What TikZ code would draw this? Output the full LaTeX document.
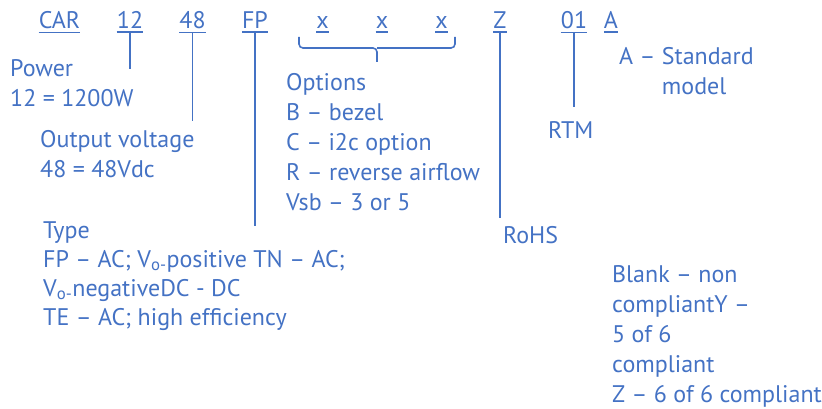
\documentclass[tikz,border=0pt]{standalone}
\usepackage{fontspec}
\setmainfont{PT Sans}
\definecolor{ordblue}{HTML}{4472C4}
\tikzset{
  code/.style={anchor=base,inner xsep=0pt,inner ysep=3pt,text=ordblue},
  desc/.style={anchor=base west,inner sep=0pt,align=left,text=ordblue},
  tie/.style={draw=ordblue,line width=1.6pt},
}
\begin{document}
\begin{tikzpicture}[x=1pt,y=-1pt,font=\fontsize{24}{30}\selectfont,line cap=butt]
\useasboundingbox (0,0) rectangle (822,409);
% part number
\node[code] (car) at (59.5,29) {CAR};
\node[code] (pw) at (130,29) {12};
\node[code] (vo) at (192.5,29) {48};
\node[code] (ty) at (255,29) {FP};
\node[code] (xa) at (322.5,29) {x};
\node[code] (xb) at (382,29) {x};
\node[code] (xc) at (441.5,29) {x};
\node[code] (rh) at (500,29) {Z};
\node[code] (rt) at (574,29) {01};
\node[code] (md) at (611,29) {A};
\foreach \n in {car,pw,vo,ty,xa,xb,xc,rh,rt,md}
  \draw[tie] (\n.south west) -- (\n.south east);
% descriptions (base = last line)
\node[desc] (pwtxt) at (10,107) {Power\\12 = 1200W};
\node[desc] (votxt) at (40,178) {Output voltage\\48 = 48Vdc};
\node[desc] (optxt) at (286,210) {Options\\B – bezel\\C – i2c option\\R – reverse airflow\\Vsb – 3 or 5};
\node[desc,font=\fontsize{24}{29}\selectfont] (tytxt) at (43,325) {Type\\FP – AC; V\textsubscript{o-}positive TN – AC;\\V\textsubscript{o-}negativeDC - DC\\TE – AC; high efficiency};
\node[desc] (rhtxt) at (503,243) {RoHS};
\node[desc] (rttxt) at (548,139) {RTM};
\node[desc] (mdtxt) at (619,95) {A – Standard\\\phantom{A – }model};
\node[desc] (bltxt) at (612,402) {Blank – non\\compliantY –\\5 of 6\\compliant\\Z – 6 of 6 compliant};
% leaders
\coordinate (pwend) at (pw.south |- 0,69);
\coordinate (voend) at (vo.south |- 0,121);
\coordinate (tyend) at (ty.south |- 0,226);
\coordinate (rhend) at (rh.south |- 0,218);
\coordinate (rtend) at (rt.south |- 0,107);
\draw[tie] (pw.south) -- (pwend);
\draw[tie] (vo.south) -- (voend);
\draw[tie] (ty.south) -- (tyend);
\draw[tie] (rh.south) -- (rhend);
\draw[tie] (rt.south) -- (rtend);
% brace over options
\draw[tie,rounded corners=4pt] (299,37) -- (299,48) -- (377,48) -- (377,62)
  (377,48) -- (455,48) -- (455,37);
\end{tikzpicture}
\end{document}
